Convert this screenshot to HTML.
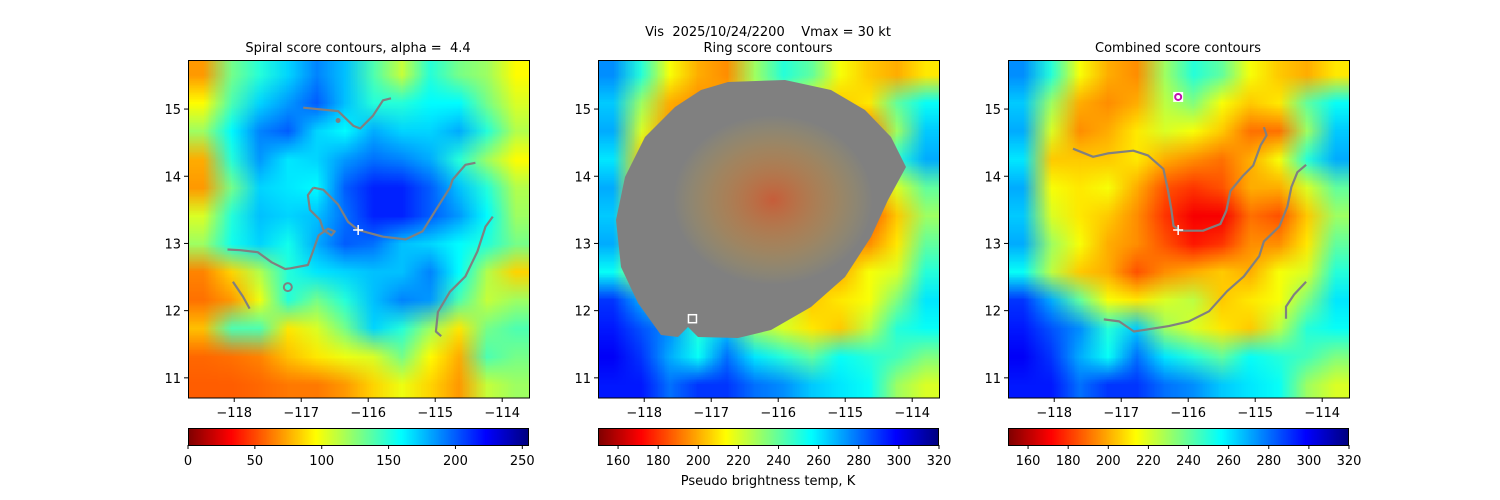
<!DOCTYPE html>
<html><head><meta charset="utf-8"><style>
body{margin:0;background:#fff;width:1500px;height:500px;overflow:hidden;position:relative;font-family:"DejaVu Sans","Liberation Sans",sans-serif}
canvas{position:absolute}
svg{position:absolute;left:0;top:0}
text{white-space:pre}
</style></head><body>
<canvas id="c1" width="341" height="338" style="left:188px;top:60px"></canvas>
<canvas id="c2" width="341" height="338" style="left:598px;top:60px"></canvas>
<canvas id="c3" width="341" height="338" style="left:1008px;top:60px"></canvas>
<canvas id="cb1" width="341" height="17" style="left:188px;top:428px"></canvas>
<canvas id="cb2" width="341" height="17" style="left:598px;top:428px"></canvas>
<canvas id="cb3" width="341" height="17" style="left:1008px;top:428px"></canvas>
<svg id="s" width="1500" height="500"></svg>
<script>
// ---- data ----
const xTicks=[-118,-117,-116,-115,-114];
const yTicks=[11,12,13,14,15];
const cb1Ticks=[0,50,100,150,200,250];
const cbTTicks=[160,180,200,220,240,260,280,300,320];
// spiral score grid (0-255), 12x12, rows top->bottom
const spiralGrid=[
[70,130,150,170,190,175,140,110,150,130,120,95],
[95,140,170,185,200,175,150,150,160,160,130,105],
[120,160,190,200,170,160,180,170,170,180,150,115],
[75,150,185,165,170,185,195,190,180,150,120,95],
[70,130,170,165,160,200,215,215,200,175,150,115],
[105,150,175,170,175,195,215,215,200,185,160,120],
[120,155,170,155,180,200,195,175,170,160,150,130],
[65,85,115,150,165,170,175,175,190,160,115,85],
[60,70,100,150,130,150,175,190,185,140,110,120],
[80,140,140,90,105,130,170,150,120,90,130,140],
[58,60,65,80,90,100,105,130,95,75,140,130],
[55,55,58,62,62,70,85,100,85,70,110,120]];
// brightness temperature grid (K), 12x12
const tempGrid=[
[275,250,215,200,195,230,250,240,215,205,200,210],
[265,230,200,195,200,225,235,215,205,210,240,255],
[270,220,195,200,210,220,215,205,190,190,230,265],
[260,205,205,205,210,200,195,190,200,215,250,270],
[270,215,210,215,200,185,180,185,200,200,220,240],
[265,220,210,205,195,180,170,170,190,185,205,230],
[270,230,215,200,195,185,175,180,195,195,210,240],
[255,225,205,200,185,195,200,205,200,215,220,250],
[290,270,240,215,210,220,225,205,210,215,235,260],
[295,285,275,250,265,230,220,210,205,225,250,255],
[300,290,270,255,280,260,250,240,255,250,245,235],
[295,295,280,290,290,280,275,265,260,255,230,220]];
// contours in lon/lat
const spiralContours=[
[[-116.97,15.02],[-116.45,14.97],[-116.22,14.75],[-116.12,14.71],[-115.93,14.90],[-115.78,15.13],[-115.66,15.16]],
[[-116.82,13.83],[-116.67,13.80],[-116.45,13.58],[-116.30,13.32],[-116.15,13.20],[-115.78,13.10],[-115.44,13.06],[-115.19,13.18],[-114.99,13.50],[-114.78,13.83],[-114.74,13.95],[-114.55,14.17],[-114.40,14.20]],
[[-116.82,13.83],[-116.90,13.72],[-116.87,13.50],[-116.72,13.35],[-116.67,13.20],[-116.55,13.12],[-116.50,13.18],[-116.60,13.22],[-116.74,13.12],[-116.83,12.87],[-116.90,12.68],[-117.16,12.63],[-117.24,12.62],[-117.44,12.72],[-117.65,12.87],[-117.91,12.90],[-118.10,12.91]],
[[-114.14,13.40],[-114.25,13.25],[-114.37,12.88],[-114.55,12.51],[-114.78,12.28],[-114.96,11.98],[-114.99,11.69],[-114.91,11.62]],
[[-118.02,12.43],[-117.87,12.21],[-117.77,12.03]]];
const combinedContours=[
[[-117.72,14.41],[-117.42,14.29],[-117.20,14.34],[-116.82,14.38],[-116.60,14.31],[-116.37,14.11],[-116.30,13.78],[-116.25,13.49],[-116.22,13.26],[-116.12,13.19],[-115.78,13.19],[-115.52,13.29],[-115.43,13.49],[-115.37,13.78],[-115.18,14.01],[-115.03,14.16],[-114.92,14.46],[-114.83,14.61],[-114.87,14.73]],
[[-114.24,14.17],[-114.37,14.06],[-114.46,13.84],[-114.52,13.55],[-114.64,13.25],[-114.87,13.03],[-114.94,12.81],[-115.17,12.51],[-115.42,12.29],[-115.69,11.99],[-115.99,11.84],[-116.29,11.77],[-116.81,11.69],[-117.03,11.84],[-117.26,11.87]],
[[-114.24,12.43],[-114.42,12.24],[-114.54,12.06],[-114.54,11.88]]];
const centerLon=-116.15, centerLat=13.2;
const ringMarker=[-116.15,15.18];
const ringBox=[-117.28,11.88];
// ---- scales ----
const panelL=[188,598,1008], T=60, W=341, H=338;
const lon0=-118.69, lon1=-113.60, lat0=10.70, lat1=15.73;
const xs=(p,lon)=>panelL[p]+(lon-lon0)/(lon1-lon0)*W;
const ys=lat=>T+(lat1-lat)/(lat1-lat0)*H;
function jetr(x){x=Math.max(0,Math.min(1,1-x));const c=v=>Math.round(255*Math.max(0,Math.min(1,v)));
 return [c(1.5-Math.abs(4*x-3)),c(1.5-Math.abs(4*x-2)),c(1.5-Math.abs(4*x-1))];}
function drawGrid(id,grid,vmin,vmax){
 const n=grid.length,m=grid[0].length;const off=document.createElement('canvas');off.width=m;off.height=n;
 const o=off.getContext('2d');const im=o.createImageData(m,n);
 grid.forEach((row,i)=>row.forEach((v,j)=>{const c=jetr((v-vmin)/(vmax-vmin));const k=(i*m+j)*4;im.data[k]=c[0];im.data[k+1]=c[1];im.data[k+2]=c[2];im.data[k+3]=255;}));
 o.putImageData(im,0,0);const ctx=document.getElementById(id).getContext('2d');ctx.imageSmoothingEnabled=true;ctx.drawImage(off,0,0,W,H);}
drawGrid('c1',spiralGrid,0,255);drawGrid('c2',tempGrid,150,320);drawGrid('c3',tempGrid,150,320);
function drawBar(id){const ctx=document.getElementById(id).getContext('2d');for(let i=0;i<W;i++){const c=jetr(i/(W-1));ctx.fillStyle=`rgb(${c})`;ctx.fillRect(i,0,1,17);}}
['cb1','cb2','cb3'].forEach(drawBar);
// ---- svg ----
const s=document.getElementById('s');const NS='http://www.w3.org/2000/svg';
function el(t,a,txt){const e=document.createElementNS(NS,t);for(const k in a)e.setAttribute(k,a[k]);if(txt!==undefined)e.textContent=txt;s.appendChild(e);return e;}
// ring mask
const mask=[[130,22],[187,20],[233,30],[267,50],[293,77],[308,107],[290,140],[273,177],[247,217],[213,247],[173,270],[140,278],[100,277],[90,267],[80,277],[63,275],[40,243],[23,207],[18,160],[27,117],[47,77],[77,47],[103,30]];
const mk=el('polygon',{points:mask.map(p=>(598+p[0])+','+(60+p[1])).join(' '),fill:'#808080'});

const defs=el('defs',{});defs.innerHTML='<radialGradient id="rg"><stop offset="0" stop-color="#ff4000" stop-opacity="0.55"/><stop offset="0.6" stop-color="#ff9000" stop-opacity="0.25"/><stop offset="1" stop-color="#ffd000" stop-opacity="0"/></radialGradient>';
const blob=el('ellipse',{cx:598+175,cy:60+140,rx:100,ry:85,fill:'url(#rg)'});

function contours(p,list,name){list.forEach((c,i)=>{const e=el('polyline',{points:c.map(q=>xs(p,q[0]).toFixed(1)+','+ys(q[1]).toFixed(1)).join(' '),fill:'none',stroke:'#808080','stroke-width':2.2,'stroke-linejoin':'round'});
 });}
contours(0,spiralContours,'spiral-contour');contours(2,combinedContours,'combined-contour');
let e=el('circle',{cx:xs(0,-117.2),cy:ys(12.35),r:4,fill:'none',stroke:'#808080','stroke-width':2});
e=el('circle',{cx:xs(0,-116.45),cy:ys(14.83),r:2.5,fill:'#808080'});
[0,2].forEach(p=>{const cx=xs(p,centerLon),cy=ys(centerLat);const g=el('path',{d:`M${cx-5} ${cy}H${cx+5}M${cx} ${cy-5}V${cy+5}`,stroke:'#fff','stroke-width':1.5});});
e=el('rect',{x:xs(2,ringMarker[0])-5,y:ys(ringMarker[1])-5,width:10,height:10,fill:'#fff'});
e=el('circle',{cx:xs(2,ringMarker[0]),cy:ys(ringMarker[1]),r:3,fill:'none',stroke:'#c010b0','stroke-width':2});
e=el('rect',{x:xs(1,ringBox[0])-4,y:ys(ringBox[1])-4,width:8,height:8,fill:'none',stroke:'#fff','stroke-width':1.5});
// axes
for(let p=0;p<3;p++){
 e=el('rect',{x:panelL[p]+0.5,y:T+0.5,width:W,height:H-0.5,fill:'none',stroke:'#000','stroke-width':1});
 xTicks.forEach(v=>{const x=xs(p,v);el('line',{x1:x,x2:x,y1:T+H,y2:T+H+4,stroke:'#000'});
  e=el('text',{x:x,y:T+H+19,'text-anchor':'middle','font-size':13},'\u2212'+Math.abs(v));});
 yTicks.forEach(v=>{const y=ys(v);el('line',{x1:panelL[p]-4,x2:panelL[p],y1:y,y2:y,stroke:'#000'});
  e=el('text',{x:panelL[p]-7,y:y+5,'text-anchor':'end','font-size':13},v);});
 e=el('rect',{x:panelL[p]+0.5,y:428.5,width:W-1,height:17,fill:'none',stroke:'#000'});
 const ticks=p===0?cb1Ticks:cbTTicks, vmin=p===0?0:150, vmax=p===0?255:320;
 ticks.forEach(v=>{const x=panelL[p]+(v-vmin)/(vmax-vmin)*W;el('line',{x1:x,x2:x,y1:445,y2:449,stroke:'#000'});
  e=el('text',{x:x,y:465,'text-anchor':'middle','font-size':13},v);});
}
const titles=[['Spiral score contours, alpha =  4.4',358,52,'spiral-title'],['Ring score contours',768,52,'ring-title'],['Vis  2025/10/24/2200    Vmax = 30 kt',768,36,'figure-title'],['Combined score contours',1178,52,'combined-title'],['Pseudo brightness temp, K',768,485,'colorbar-label']];
titles.forEach(t=>{e=el('text',{x:t[1],y:t[2],'text-anchor':'middle','font-size':13},t[0]);});
</script></body></html>
